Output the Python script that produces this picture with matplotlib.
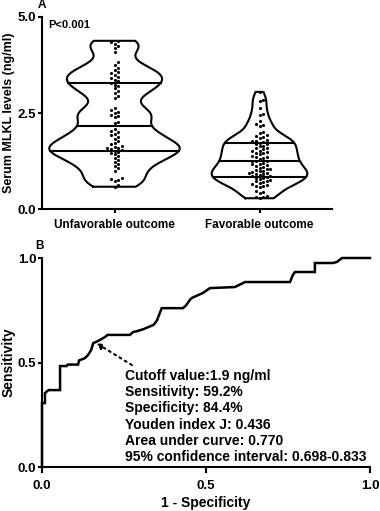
import numpy as np
import matplotlib
matplotlib.use("Agg")
import matplotlib.pyplot as plt

plt.rcParams['font.family'] = ['Liberation Sans', 'DejaVu Sans']
plt.rcParams['font.weight'] = 'bold'

# ---------------- data ----------------
categories = ["Unfavorable outcome", "Favorable outcome"]
unfavorable = [0.58, 0.62, 0.72, 0.75, 0.78, 0.81,
               1.00, 1.06, 1.12, 1.17, 1.22, 1.27, 1.32, 1.37, 1.42,
               1.46, 1.49,
               1.52, 1.54, 1.56, 1.58, 1.60, 1.62, 1.65, 1.68, 1.72,
               1.78, 1.83, 1.88, 1.92, 1.96, 2.00, 2.04, 2.08,
               2.24, 2.27, 2.40, 2.43, 2.46, 2.50, 2.53, 2.57, 2.62,
               2.88, 2.95, 3.02, 3.08, 3.14, 3.20, 3.24, 3.28,
               3.33, 3.37, 3.41, 3.45, 3.49, 3.53, 3.57, 3.62, 3.67,
               3.75, 3.82, 4.08,
               4.20, 4.25, 4.30, 4.34, 4.38]
favorable = [3.05, 2.85, 2.80, 2.63, 2.48, 2.45, 2.28, 2.22, 2.18, 2.15,
             2.00, 1.97, 1.94, 1.90, 1.87, 1.85,
             1.80, 1.78, 1.76, 1.75, 1.73, 1.70,
             1.68, 1.65, 1.63, 1.60, 1.58, 1.55,
             1.52, 1.50, 1.48, 1.46, 1.45, 1.42,
             1.38, 1.36, 1.35, 1.33, 1.30,
             1.26, 1.25, 1.24,
             1.20, 1.18, 1.16, 1.15, 1.12, 1.10, 1.08,
             1.05, 1.04, 1.02, 1.00, 0.98, 0.97,
             0.95, 0.93, 0.92, 0.90, 0.88, 0.87,
             0.85, 0.84, 0.82, 0.80, 0.78,
             0.75, 0.73, 0.72, 0.70, 0.68, 0.66,
             0.63, 0.61, 0.60, 0.58,
             0.48, 0.45, 0.42,
             0.34, 0.32, 0.30, 0.28]
p_text = "P<0.001"

roc_fpr = [0.0, 0.0, 0.009, 0.009, 0.02, 0.055, 0.055, 0.075, 0.078, 0.11, 0.113, 0.13,
           0.14, 0.15, 0.156, 0.177, 0.192, 0.20, 0.268, 0.278, 0.29, 0.31, 0.34,
           0.35, 0.365, 0.421, 0.43, 0.44, 0.451, 0.457, 0.491, 0.512, 0.588, 0.619,
           0.756, 0.765, 0.771, 0.832, 0.832, 0.887, 0.899, 0.915, 1.0]
roc_tpr = [0.0, 0.306, 0.306, 0.354, 0.368, 0.368, 0.483, 0.483, 0.49, 0.49, 0.51, 0.52,
           0.535, 0.56, 0.592, 0.608, 0.622, 0.632, 0.632, 0.646, 0.65, 0.66, 0.68,
           0.70, 0.76, 0.76, 0.76, 0.775, 0.80, 0.809, 0.833, 0.856, 0.861, 0.885,
           0.885, 0.919, 0.933, 0.933, 0.976, 0.976, 0.981, 1.0, 1.0]
cutoff_point = (0.156, 0.592)
roc_text = ["Cutoff value:1.9 ng/ml",
            "Sensitivity: 59.2%",
            "Specificity: 84.4%",
            "Youden index J: 0.436",
            "Area under curve: 0.770",
            "95% confidence interval: 0.698-0.833"]

# ---------------- figure ----------------
W, H = 380, 511
fig = plt.figure(figsize=(W / 100, H / 100), dpi=100)

LW = 1.5
# Panel A
axA = fig.add_axes([42 / W, 1 - 209 / H, 290 / W, 192 / H])
axA.set_xlim(-0.5, 1.5)
axA.set_ylim(0, 5.0)

px_per_x = 290 / 2.0
px_per_y = 192 / 5.0

def kde(vals, grid, bw):
    v = np.asarray(vals)[:, None]
    return np.exp(-0.5 * ((grid[None, :] - v) / bw) ** 2).sum(axis=0)

def swarm(vals, center, diam_px):
    vals = np.sort(np.asarray(vals))
    placed = []
    xs = []
    for v in vals:
        k = 0
        while True:
            cands = [0] if k == 0 else [k, -k]
            ok = None
            for c in cands:
                xo = c * diam_px
                good = True
                for (px, py) in placed:
                    if (px - xo) ** 2 + ((py - v) * px_per_y) ** 2 < diam_px ** 2 * 0.95:
                        good = False
                        break
                if good:
                    ok = xo
                    break
            if ok is not None:
                break
            k += 1
        placed.append((ok, v))
        xs.append(center + ok / px_per_x)
    return np.array(xs), vals

groups = [unfavorable, favorable]
half_widths = [0.45, 0.33]
bws = [0.21, 0.15]
for i, (vals, hw, bw) in enumerate(zip(groups, half_widths, bws)):
    vals = np.asarray(vals)
    grid = np.linspace(vals.min(), vals.max(), 300)
    d = kde(vals, grid, bw)
    d = d / d.max() * hw
    xl = i - d
    xr = i + d
    xs = np.concatenate([xl, xr[::-1], [xl[0]]])
    ys = np.concatenate([grid, grid[::-1], [grid[0]]])
    axA.plot(xs, ys, color='black', lw=LW, solid_joinstyle='round')
    for q in np.percentile(vals, [25, 50, 75]):
        w = np.interp(q, grid, d)
        axA.plot([i - w, i + w], [q, q], color='black', lw=LW)
    sx, sy = swarm(vals, i, 3.6)
    axA.scatter(sx, sy, s=5, color='black', zorder=3, linewidths=0)

axA.set_xticks([0, 1])
axA.set_xticklabels(categories, fontsize=8.5, fontweight='bold')
axA.set_yticks([0, 2.5, 5.0])
axA.set_yticklabels(["0.0", "2.5", "5.0"], fontsize=9.5, fontweight='bold')
for s in ['top', 'right']:
    axA.spines[s].set_visible(False)
for s in ['left', 'bottom']:
    axA.spines[s].set_linewidth(LW)
axA.tick_params(axis='y', length=3, width=LW, pad=1)
axA.tick_params(axis='x', length=3, width=LW, pad=4)
axA.set_ylabel("Serum MLKL levels (ng/ml)", fontsize=9, fontweight='bold')
axA.yaxis.set_label_coords(-0.093, 0.5)
axA.text(0.02, 0.958, p_text, transform=axA.transAxes, fontsize=8, fontweight='bold',
         ha='left', va='center')
fig.text(42 / W, 1 - 5 / H, "A", fontsize=8.5, fontweight='bold', ha='center', va='center')

# Panel B
axB = fig.add_axes([42 / W, 1 - 467 / H, 328 / W, 209 / H])
axB.set_xlim(0, 1)
axB.set_ylim(0, 1)
axB.plot(roc_fpr, roc_tpr, color='black', lw=1.8, clip_on=False, solid_joinstyle='miter')
axB.set_xticks([0, 0.5, 1.0])
axB.set_xticklabels(["0.0", "0.5", "1.0"], fontsize=9.5, fontweight='bold')
axB.set_yticks([0, 0.5, 1.0])
axB.set_yticklabels(["0.0", "0.5", "1.0"], fontsize=9.5, fontweight='bold')
for s in ['top', 'right']:
    axB.spines[s].set_visible(False)
for s in ['left', 'bottom']:
    axB.spines[s].set_linewidth(LW)
axB.tick_params(axis='y', length=3, width=LW, pad=1)
axB.tick_params(axis='x', length=4, width=LW, pad=5)
axB.set_xlabel("1 - Specificity", fontsize=10, fontweight='bold')
axB.xaxis.set_label_coords(0.5, -0.14)
axB.set_ylabel("Sensitivity", fontsize=10, fontweight='bold')
axB.yaxis.set_label_coords(-0.082, 0.5)

axB.annotate("", xy=(cutoff_point[0] + 0.01, cutoff_point[1]), xytext=(0.274, 0.488),
             arrowprops=dict(arrowstyle='-|>', linestyle=(0, (1, 2)), lw=1.5,
                             color='black', mutation_scale=8, shrinkA=0, shrinkB=0))
for j, line in enumerate(roc_text):
    axB.text(0.253, 0.435 - j * 0.0775, line, fontsize=10, fontweight='bold',
             ha='left', va='center')
fig.text(39 / W, 1 - 246 / H, "B", fontsize=8.5, fontweight='bold', ha='center', va='center')

fig.savefig("out.png", dpi=100)
